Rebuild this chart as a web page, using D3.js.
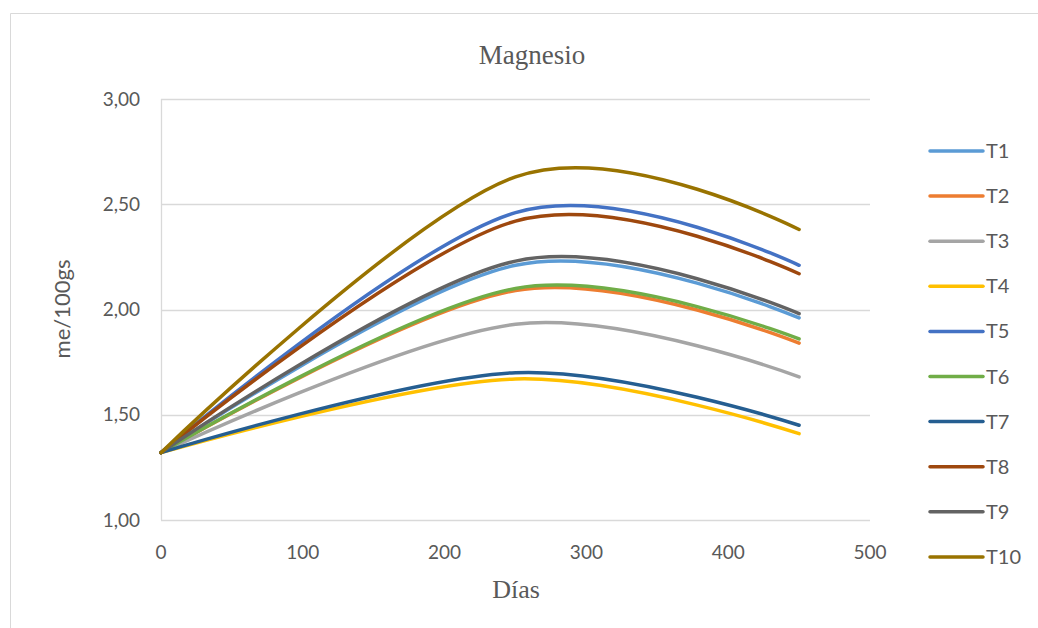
<!DOCTYPE html>
<html>
<head>
<meta charset="utf-8">
<script src="https://cdn.jsdelivr.net/npm/d3@7"></script>
<style>
  html, body { margin: 0; padding: 0; background: #fff; }
  svg { display: block; }
</style>
</head>
<body>
<svg id="chart" width="1038" height="628"></svg>
<script>
// Magnesium content (me/100gs) per treatment over time (days)
const days = [0, 250, 450];
const series = ["T1", "T2", "T3", "T4", "T5", "T6", "T7", "T8", "T9", "T10"];
const T1  = [1.32, 2.21, 1.96];
const T2  = [1.32, 2.09, 1.84];
const T3  = [1.32, 1.93, 1.68];
const T4  = [1.32, 1.67, 1.41];
const T5  = [1.32, 2.46, 2.21];
const T6  = [1.32, 2.10, 1.86];
const T7  = [1.32, 1.70, 1.45];
const T8  = [1.32, 2.42, 2.17];
const T9  = [1.32, 2.23, 1.98];
const T10 = [1.32, 2.63, 2.38];
const values = [T1, T2, T3, T4, T5, T6, T7, T8, T9, T10];
const colors = ["#5B9BD5", "#ED7D31", "#A5A5A5", "#FFC000", "#4472C4",
                "#70AD47", "#255E91", "#9E480E", "#636363", "#997300"];
const xTicks = [0, 100, 200, 300, 400, 500];
const yTicks = [1.0, 1.5, 2.0, 2.5, 3.0];

const svg = d3.select("#chart");
const plotLeft = 161, plotRight = 870, plotTop = 99, plotBottom = 520;

const x = d3.scaleLinear().domain([0, 500]).range([plotLeft, plotRight]);
const y = d3.scaleLinear().domain([1, 3]).range([plotBottom, plotTop]);

const sans = "Lato, 'Open Sans', sans-serif";
const serif = "'Liberation Serif', 'DejaVu Serif', serif";
const textCol = "#595959";
const gridCol = "#d9d9d9";

// outer chart frame
svg.append("path")
  .attr("d", "M10.5,640 V13.5 H1040")
  .attr("fill", "none").attr("stroke", gridCol).attr("stroke-width", 1);

// horizontal gridlines
svg.append("g").selectAll("line").data(yTicks).join("line")
  .attr("x1", plotLeft).attr("x2", plotRight)
  .attr("y1", d => Math.round(y(d)) + 0.5).attr("y2", d => Math.round(y(d)) + 0.5)
  .attr("stroke", gridCol).attr("stroke-width", 1.3);

// vertical axis line
svg.append("line")
  .attr("x1", plotLeft + 0.5).attr("x2", plotLeft + 0.5)
  .attr("y1", plotTop).attr("y2", plotBottom)
  .attr("stroke", gridCol).attr("stroke-width", 1.3);

// y tick labels
const fmt = d => d3.format(".2f")(d).replace(".", ",");
svg.append("g").selectAll("text").data(yTicks).join("text")
  .attr("x", 140).attr("y", d => y(d))
  .attr("dy", "0.35em")
  .attr("text-anchor", "end")
  .attr("font-family", sans).attr("font-size", 19)
  .attr("fill", textCol)
  .text(fmt);

// x tick labels
svg.append("g").selectAll("text").data(xTicks).join("text")
  .attr("x", d => x(d)).attr("y", 552)
  .attr("dy", "0.35em")
  .attr("text-anchor", "middle")
  .attr("font-family", sans).attr("font-size", 19)
  .attr("fill", textCol)
  .text(d => d);

// titles
svg.append("text")
  .attr("x", 532).attr("y", 64)
  .attr("text-anchor", "middle")
  .attr("font-family", serif).attr("font-size", 27)
  .attr("fill", textCol).text("Magnesio");

svg.append("text")
  .attr("x", 516).attr("y", 598)
  .attr("text-anchor", "middle")
  .attr("font-family", serif).attr("font-size", 26)
  .attr("fill", textCol).text("Días");

svg.append("text")
  .attr("transform", "translate(62," + 309 + ") rotate(-90)")
  .attr("dy", "0.35em")
  .attr("text-anchor", "middle")
  .attr("font-family", sans).attr("font-size", 22)
  .attr("fill", textCol).text("me/100gs");

// smoothed series lines
const line = d3.line()
  .x((d, i) => x(days[i]))
  .y(d => y(d))
  .curve(d3.curveCardinal.tension(0));

svg.append("g").selectAll("path").data(values).join("path")
  .attr("d", d => line(d))
  .attr("fill", "none")
  .attr("stroke", (d, i) => colors[i])
  .attr("stroke-width", 3.5)
  .attr("stroke-linecap", "round")
  .attr("stroke-linejoin", "round");

// legend
const legend = svg.append("g").selectAll("g").data(series).join("g")
  .attr("transform", (d, i) => "translate(0," + (151 + i * 45.1) + ")");
legend.append("line")
  .attr("x1", 930).attr("x2", 983)
  .attr("y1", 0).attr("y2", 0)
  .attr("stroke", (d, i) => colors[i])
  .attr("stroke-width", 3.5)
  .attr("stroke-linecap", "round");
legend.append("text")
  .attr("x", 986).attr("y", 0).attr("dy", "0.35em")
  .attr("font-family", sans).attr("font-size", 20)
  .attr("fill", textCol)
  .text(d => d);
</script>
</body>
</html>
